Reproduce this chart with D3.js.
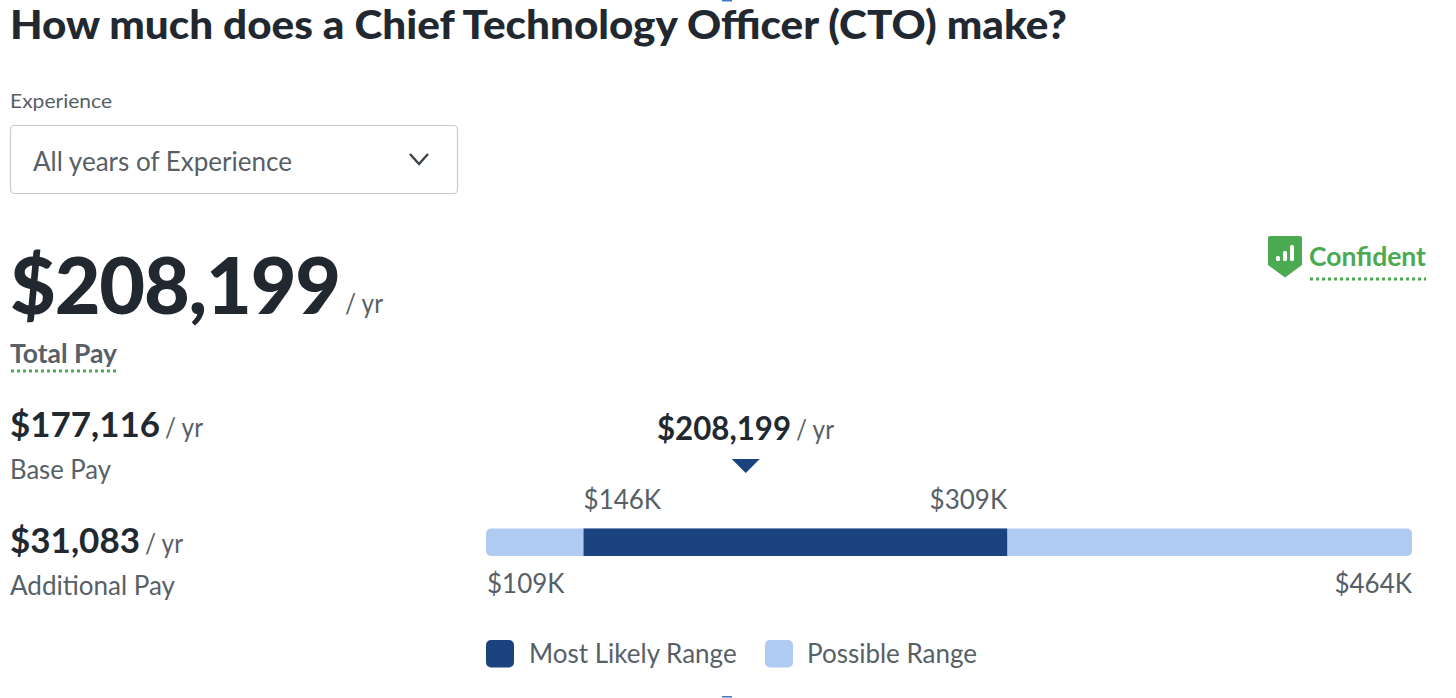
<!DOCTYPE html>
<html><head><meta charset="utf-8">
<script src="https://cdn.jsdelivr.net/npm/d3@7/dist/d3.min.js"></script>
<style>html,body{margin:0;padding:0;background:#fff;overflow:hidden}svg{display:block}text{font-family:Lato,sans-serif}</style>
</head><body><svg id="c" width="1456" height="698"></svg>
<script>
const titleText = "How much does a Chief Technology Officer (CTO) make?";
const filterLabel = "Experience";
const filterValue = "All years of Experience";
const confidence = "Confident";
const totalPay = 208199, basePay = 177116, additionalPay = 31083;
const rangeBounds = [109, 464];
const likelyRange = [146.4, 308.8];
const legendLabels = ["Most Likely Range", "Possible Range"];
const dark = "#1b4380", light = "#afcbf2", ink = "#212830", grey = "#575f67", green = "#4caa53";

const svg = d3.select("#c");
const money = d3.format("$,d");
const x = d3.scaleLinear().domain(rangeBounds).range([486, 1412]);
const K = v => "$" + Math.round(v) + "K";
const txt = (s, px, py, size, fill, weight, anchor) => svg.append("text").attr("x", px).attr("y", py)
  .attr("font-size", size).attr("fill", fill).attr("font-weight", weight || 400).attr("text-anchor", anchor || "start").text(s);
const fit = (t, w) => t.attr("textLength", w).attr("lengthAdjust", "spacingAndGlyphs");
const track = (t, w) => t.attr("letter-spacing", (w - t.node().getComputedTextLength()) / t.text().length);
const unit = (px, py, size) => fit(txt("/ yr", px, py, size, grey), 38);
const dotted = (x0, x1, y) => svg.append("line").attr("x1", x0).attr("x2", x1).attr("y1", y).attr("y2", y)
  .attr("stroke", green).attr("stroke-width", 3).attr("stroke-dasharray", "3 3");

// page-edge slivers visible in the screenshot
[0, 696].forEach(y => svg.append("rect").attr("x", 722).attr("y", y).attr("width", 10).attr("height", 1.5).attr("fill", "#3f7cc4"));

// header
fit(txt(titleText, 10, 39, 40.5, ink, 900), 1057);
fit(txt(filterLabel, 10, 108, 20, grey), 102);
svg.append("rect").attr("x", 10.5).attr("y", 125.5).attr("width", 447).attr("height", 68).attr("rx", 4)
  .attr("fill", "#fff").attr("stroke", "#c9cbcd").attr("stroke-width", 1.2);
fit(txt(filterValue, 33, 170.5, 26, grey), 259);
svg.append("path").attr("d", d3.line()([[410, 154], [419, 164], [428, 154]]))
  .attr("fill", "none").attr("stroke", "#3a4249").attr("stroke-width", 2.4);

// left figures
track(txt(money(totalPay), 10, 314, 79, ink, 900), 330);
unit(345, 313, 26);
fit(txt("Total Pay", 10, 363, 26, grey, 700), 107);
dotted(11, 117, 371);
fit(txt(money(basePay), 10, 437, 35, ink, 700), 150);
unit(165, 437, 26);
fit(txt("Base Pay", 10, 479, 26, grey), 101);
fit(txt(money(additionalPay), 10, 553, 35, ink, 700), 130);
unit(145, 553, 26);
fit(txt("Additional Pay", 10, 595, 26, grey), 165);

// confidence badge
svg.append("path").attr("d", "M1268,238 Q1268,236 1270,236 L1300,236 Q1302,236 1302,238 L1302,265 L1285,277.5 L1268,265 Z").attr("fill", green);
[[1276, 256, 5], [1283, 251, 10], [1290, 245, 16]].forEach(d => svg.append("rect")
  .attr("x", d[0]).attr("y", d[1]).attr("width", 4).attr("height", d[2]).attr("rx", 1.5).attr("fill", "#fff"));
fit(txt(confidence, 1309, 266, 27, green, 700), 117);
dotted(1310, 1426, 279);

// range bar
svg.append("rect").attr("x", x(rangeBounds[0])).attr("y", 528.5).attr("width", x(rangeBounds[1]) - x(rangeBounds[0])).attr("height", 27.5).attr("rx", 5).attr("fill", light);
svg.append("rect").attr("x", x(likelyRange[0])).attr("y", 528.5).attr("width", x(likelyRange[1]) - x(likelyRange[0])).attr("height", 27.5).attr("fill", dark);

// marker
const mx = x(totalPay / 1000) + 1;
svg.append("path").attr("d", d3.line()([[mx - 14, 459], [mx + 14, 459], [mx, 473]])).attr("fill", dark);
fit(txt(money(totalPay), 657, 440, 32, ink, 700), 134);
unit(796, 439, 26);

// range labels
txt(K(likelyRange[0]), x(likelyRange[0]), 509, 26, grey);
txt(K(likelyRange[1]), x(likelyRange[1]), 509, 26, grey, 400, "end");
txt(K(rangeBounds[0]), x(rangeBounds[0]) + 1, 593, 26, grey);
txt(K(rangeBounds[1]), x(rangeBounds[1]), 593, 26, grey, 400, "end");

// legend
[[486, dark, 529], [765, light, 807]].forEach((d, i) => {
  svg.append("rect").attr("x", d[0]).attr("y", 640).attr("width", 28).attr("height", 27.5).attr("rx", 5).attr("fill", d[1]);
  txt(legendLabels[i], d[2], 663, 26, grey);
});
</script></body></html>
